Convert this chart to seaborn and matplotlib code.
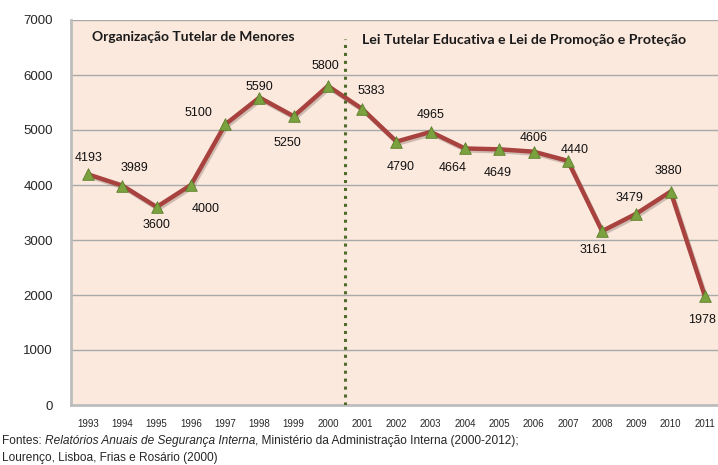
import numpy as np
import pandas as pd
import matplotlib
matplotlib.use('Agg')
import matplotlib.pyplot as plt
import seaborn as sns

# data
years = ['1993', '1994', '1995', '1996', '1997', '1998', '1999', '2000', '2001',
         '2002', '2003', '2004', '2005', '2006', '2007', '2008', '2009', '2010', '2011']
values = [4193, 3989, 3600, 4000, 5100, 5590, 5250, 5800, 5383,
          4790, 4965, 4664, 4649, 4606, 4440, 3161, 3479, 3880, 1978]
# label offsets in pixels (dx, dy) relative to each point
label_dx = [0, 12, 0, 15, -27, 0, -6, -3, 9, 4, 0, -12, -2, 0, 7, -9, -7, -2, -3]
label_dy = [16, 18, -18, -24, 12, 11, -27, 20, 18, -25, 17, -20, -24, 14, 11, -19, 16, 21, -24]

period_labels = ['Organização Tutelar de Menores',
                 'Lei Tutelar Educativa e Lei de Promoção e Proteção']
source_parts = [('Fontes: ', 'normal'),
                ('Relatórios Anuais de Segurança Interna', 'italic'),
                (', Ministério da Administração Interna (2000-2012);', 'normal')]
source_line2 = 'Lourenço, Lisboa, Frias e Rosário (2000)'

sns.set_style('white')
plt.rcParams['font.family'] = ['Liberation Sans', 'DejaVu Sans']

df = pd.DataFrame({'pos': np.arange(len(years)), 'value': values})

fig = plt.figure(figsize=(7.18, 4.65), dpi=100)
ax = fig.add_axes([71 / 718, 1 - 405 / 465, 651 / 718, 385 / 465])
ax.set_facecolor('#FCE9DE')

# shadow under the line
sns.lineplot(data=df, x='pos', y='value', ax=ax, color='#7a6a60', lw=3.2,
             alpha=0.35, zorder=2,
             transform=matplotlib.transforms.offset_copy(ax.transData, fig=fig, x=1.5, y=-2, units='dots'))
sns.lineplot(data=df, x='pos', y='value', ax=ax, color='#A8423F', lw=3.2, zorder=3)
ax.scatter(df['pos'], df['value'], marker='^', s=70, color='#7BA23F',
           edgecolor='#5C7F2A', linewidth=0.6, zorder=4)

for i, v in enumerate(values):
    ax.annotate(str(v), (i, v), xytext=(label_dx[i] * 0.72, label_dy[i] * 0.72),
                textcoords='offset points', ha='center', va='center',
                fontsize=9, color='#111111', zorder=5)

# boundary between regimes
ax.plot([7.5, 7.5], [0, 6650], ls=(0, (1, 1.6)), lw=2.2, color='#4F6B2A', zorder=3)

ax.text(0.1, 6690, period_labels[0], fontsize=10, fontweight='bold',
        family='Lato', color='#1a1a1a', ha='left', va='center')
ax.text(8.0, 6640, period_labels[1], fontsize=10.2, fontweight='bold',
        family='Lato', color='#1a1a1a', ha='left', va='center')

ax.set_xlim(-0.5, len(years) - 0.5)
ax.set_ylim(0, 7000)
ax.set_yticks(range(0, 7001, 1000))
ax.yaxis.grid(True, color='#A9A9A9', lw=1)
ax.set_axisbelow(True)
ax.set_xticks(df['pos'])
ax.set_xticklabels(years, fontsize=7)
ax.set_xticks(np.arange(-0.5, len(years), 1), minor=True)
ax.tick_params(axis='x', which='major', length=0, pad=10)
ax.tick_params(axis='x', which='minor', length=4, color='#A9A9A9', width=1)
ax.tick_params(axis='y', length=5, color='#A9A9A9', width=1, labelsize=9.5, pad=8)
ax.set_xlabel('')
ax.set_ylabel('')
for s in ['top', 'right']:
    ax.spines[s].set_visible(False)
for s in ['left', 'bottom']:
    ax.spines[s].set_color('#BDBDBD')
    ax.spines[s].set_linewidth(2)

# source note, with the report title in italics
fig.canvas.draw()
renderer = fig.canvas.get_renderer()
x_px = 2
for txt, style in source_parts:
    t = fig.text(x_px / 718, 1 - 441 / 465, txt, fontsize=8.6, style=style,
                 va='center', ha='left')
    x_px += t.get_window_extent(renderer).width
fig.text(2 / 718, 1 - 458 / 465, source_line2, fontsize=8.6, va='center', ha='left')

fig.savefig('out.png', dpi=100, facecolor='white')
